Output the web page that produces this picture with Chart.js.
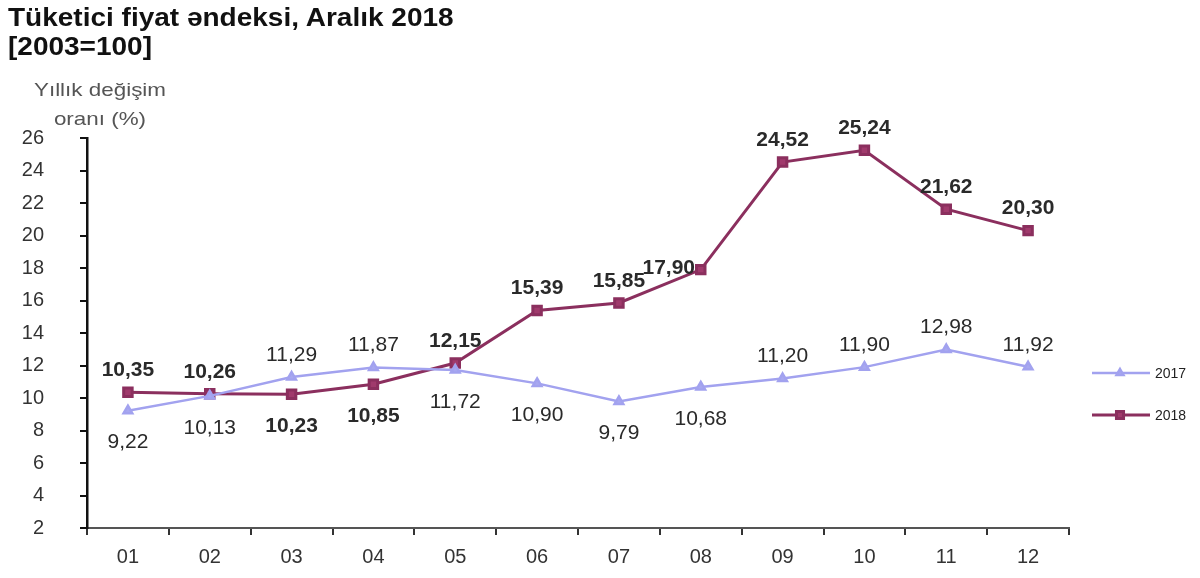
<!DOCTYPE html>
<html>
<head>
<meta charset="utf-8">
<script src="https://cdn.jsdelivr.net/npm/chart.js@4.4.0/dist/chart.umd.min.js"></script>
<style>
    html, body { margin: 0; padding: 0; background: #fff; overflow: hidden; }
    #wrap { position: relative; width: 1200px; height: 578px; overflow: hidden; }
    #cpiChart { display: block; }
    .title { position: absolute; left: 8px; font: bold 25px "Liberation Sans", Arial, sans-serif; color: #111; transform: scaleX(1.12); transform-origin: left; white-space: nowrap; }
    .ytitle { position: absolute; left: 10px; width: 180px; text-align: center; font: 19px "Liberation Sans", Arial, sans-serif; color: #555; line-height: 29px; transform: scaleX(1.18); }
</style>
</head>
<body>
<div id="wrap">
    <canvas id="cpiChart" width="1200" height="578"></canvas>
    <div class="title" style="top:3px">Tüketici fiyat əndeksi, Aralık 2018</div>
    <div class="title" style="top:32px">[2003=100]</div>
    <div class="ytitle" style="top:75px">Yıllık değişim<br>oranı (%)</div>
</div>
<script>
const months = ['01', '02', '03', '04', '05', '06', '07', '08', '09', '10', '11', '12'];
const values2017 = [9.22, 10.13, 11.29, 11.87, 11.72, 10.90, 9.79, 10.68, 11.20, 11.90, 12.98, 11.92];
const values2018 = [10.35, 10.26, 10.23, 10.85, 12.15, 15.39, 15.85, 17.90, 24.52, 25.24, 21.62, 20.30];
const yTicks = [2, 4, 6, 8, 10, 12, 14, 16, 18, 20, 22, 24, 26];

// where each value label sits relative to its point
const place2017 = ['below', 'below', 'above', 'above', 'below', 'below', 'below', 'below', 'above', 'above', 'above', 'above'];
const place2018 = ['above', 'above', 'below', 'below', 'above', 'above', 'above', 'left', 'above', 'above', 'above', 'above'];

const fontName = '"Liberation Sans", Arial, sans-serif';

function fmt(v) {
    return v.toFixed(2).replace('.', ',');
}

const valueLabels = {
    id: 'valueLabels',
    afterDatasetsDraw(chart) {
        const ctx = chart.ctx;
        chart.data.datasets.forEach((ds, i) => {
            const meta = chart.getDatasetMeta(i);
            ctx.save();
            ctx.font = (ds.labelBold ? 'bold ' : '') + '21px ' + fontName;
            ctx.fillStyle = '#2a2a2a';
            ctx.textAlign = 'center';
            ctx.textBaseline = 'middle';
            meta.data.forEach((pt, j) => {
                const where = ds.labelPlace[j];
                let x = pt.x, y = pt.y;
                if (where === 'above') y -= 22;
                else if (where === 'below') y += 32;
                else { x -= 32; y -= 1; }
                ctx.fillText(fmt(ds.data[j]), x, y);
            });
            ctx.restore();
        });
    }
};

const sideLegend = {
    id: 'sideLegend',
    afterDraw(chart) {
        const ctx = chart.ctx;
        const rows = [373, 415];
        chart.data.datasets.forEach((ds, i) => {
            const y = rows[i];
            ctx.save();
            ctx.strokeStyle = ds.borderColor;
            ctx.lineWidth = ds.borderWidth;
            ctx.beginPath();
            ctx.moveTo(1092, y);
            ctx.lineTo(1150, y);
            ctx.stroke();
            ctx.fillStyle = ds.pointBackgroundColor;
            ctx.strokeStyle = ds.pointBorderColor;
            Chart.helpers.drawPoint(ctx, {
                pointStyle: ds.pointStyle,
                radius: ds.pointRadius - 1,
                rotation: 0,
                borderWidth: 1
            }, 1120, y);
            ctx.fillStyle = '#222';
            ctx.font = '14px ' + fontName;
            ctx.textBaseline = 'middle';
            ctx.fillText(ds.label, 1155, y + 1);
            ctx.restore();
        });
    }
};

new Chart(document.getElementById('cpiChart').getContext('2d'), {
    type: 'line',
    data: {
        labels: months,
        datasets: [
            {
                label: '2017',
                data: values2017,
                borderColor: '#a2a2ef',
                borderWidth: 2.5,
                pointStyle: 'triangle',
                pointRadius: 5,
                pointBackgroundColor: '#a8a8f0',
                pointBorderColor: '#a2a2ef',
                labelBold: false,
                labelPlace: place2017
            },
            {
                label: '2018',
                data: values2018,
                borderColor: '#8b2f5e',
                borderWidth: 3,
                pointStyle: 'rect',
                pointRadius: 6,
                pointBackgroundColor: '#a03a6c',
                pointBorderColor: '#8b2f5e',
                labelBold: true,
                labelPlace: place2018
            }
        ]
    },
    options: {
        responsive: false,
        animation: false,
        layout: { padding: { top: 138, right: 131, left: 0, bottom: 0 } },
        plugins: {
            legend: { display: false },
            tooltip: { enabled: false }
        },
        scales: {
            x: {
                offset: true,
                grid: { offset: true, drawOnChartArea: false, tickLength: 7, color: '#333', lineWidth: 2 },
                border: { color: '#555', width: 2 },
                ticks: { color: '#333', padding: 10, font: { family: fontName, size: 20 }, maxRotation: 0 },
                afterFit(scale) { scale.height = 50; }
            },
            y: {
                min: yTicks[0],
                max: yTicks[yTicks.length - 1],
                afterBuildTicks(scale) { scale.ticks = yTicks.map(v => ({ value: v })); },
                grid: { drawOnChartArea: false, tickLength: 7, color: '#111', lineWidth: 2 },
                border: { color: '#111', width: 2.5 },
                ticks: { color: '#333', padding: 36, font: { family: fontName, size: 20 } },
                afterFit(scale) { scale.width = 87; }
            }
        }
    },
    plugins: [valueLabels, sideLegend]
});
</script>
</body>
</html>
